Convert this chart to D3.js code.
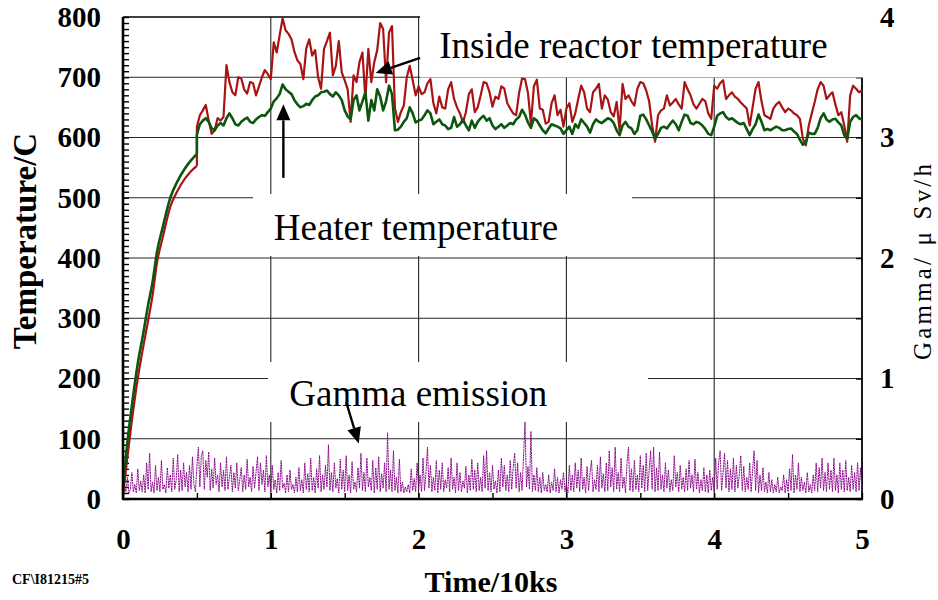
<!DOCTYPE html>
<html>
<head>
<meta charset="utf-8">
<script src="https://cdn.jsdelivr.net/npm/d3@7"></script>
<style>
  body { margin: 0; background: #fff; }
  svg { display: block; }
</style>
</head>
<body>
<div id="chart"></div>
<script>
// tick labels
const tempTicks = [0, 100, 200, 300, 400, 500, 600, 700, 800];
const timeTicks = [0, 1, 2, 3, 4, 5];
const gammaTicks = [0, 1, 2, 3, 4];

// warm-up ramp (time in 10ks, temperature in C)
const rampTime = [0, 0.03, 0.06, 0.1, 0.135, 0.17, 0.2, 0.23, 0.27, 0.32, 0.37, 0.42, 0.46, 0.5];
const rampHeater = [15, 95, 155, 225, 272, 322, 360, 410, 452, 500, 528, 549, 562, 573];
const rampReactor = [5, 70, 130, 200, 250, 296, 338, 392, 435, 485, 512, 532, 544, 553];

// holding period, sampled every 0.02 (x 10ks) from 0.5 to 5.0
const holdStart = 0.5, holdStep = 0.02;
const heaterTemp = [
  605,622,628,632,626,615,612,620,624,620,
  632,640,632,622,620,626,630,633,626,624,
  630,634,637,636,642,648,660,665,672,688,
  680,676,672,662,655,650,652,656,654,662,
  668,670,675,676,678,672,668,675,670,662,
  645,635,630,662,670,645,660,675,628,662,
  645,680,668,645,660,686,672,612,613,618,
  626,632,650,640,625,628,630,637,645,640,
  622,626,630,622,620,614,616,634,618,622,
  630,620,612,628,616,626,632,636,628,632,
  620,614,618,622,616,620,624,622,630,634,
  646,638,625,616,632,628,620,612,607,615,
  622,620,618,615,606,612,618,606,622,616,
  630,624,618,608,622,630,626,624,628,632,
  630,624,612,604,620,626,618,615,606,612,
  636,638,630,620,610,598,606,616,618,615,
  622,628,622,612,626,638,636,624,622,626,
  624,620,614,606,604,618,636,640,642,634,
  630,632,628,624,622,624,614,604,614,622,
  638,626,612,614,612,615,618,616,612,612,
  614,615,610,606,596,588,592,608,606,606,
  616,632,640,630,626,630,631,625,620,604,
  598,626,634,637,632,630
];
const reactorTemp = [
  618,637,645,654,628,606,612,632,628,634,
  720,692,675,670,700,698,680,673,692,690,
  670,685,700,712,705,697,758,741,770,798,
  778,772,763,742,728,722,697,748,763,736,
  745,700,681,747,760,774,703,719,760,708,
  695,680,626,703,692,725,741,664,747,692,
  725,745,790,780,692,774,785,648,626,642,
  653,700,719,695,670,685,672,675,690,697,
  657,640,668,650,648,680,692,664,650,640,
  625,642,672,680,642,650,670,692,690,675,
  651,668,664,685,681,657,648,640,637,674,
  698,697,674,623,685,696,648,646,623,626,
  657,670,637,646,618,648,657,626,640,664,
  686,675,648,642,675,681,689,648,670,663,
  642,635,659,612,689,664,670,660,653,681,
  692,690,678,660,620,593,637,645,648,670,
  653,658,664,655,648,692,680,670,655,648,
  656,664,660,640,631,686,681,690,695,664,
  670,675,668,664,658,653,648,620,650,681,
  692,660,637,634,631,648,655,659,650,642,
  648,645,640,637,631,598,587,620,640,659,
  680,692,686,664,670,675,655,637,642,620,
  593,670,686,681,675,678
];

// gamma dose rate (uSv/h), sampled every 0.01 (x 10ks) from 0 to 5.0
const gammaStep = 0.01;
const gammaRate = [
  0.02,0.10,0.06,0.18,0.05,0.08,0.22,0.06,0.12,0.05,0.25,0.07,0.15,0.06,0.20,0.05,0.30,0.08,0.38,0.06,
  0.14,0.05,0.28,0.07,0.18,0.06,0.32,0.08,0.12,0.05,0.26,0.09,0.20,0.06,0.34,0.08,0.16,0.37,0.06,0.24,
  0.07,0.30,0.10,0.22,0.06,0.28,0.08,0.35,0.12,0.06,0.27,0.43,0.10,0.36,0.40,0.08,0.32,0.18,0.39,0.07,
  0.25,0.09,0.34,0.12,0.20,0.06,0.30,0.10,0.24,0.07,0.35,0.08,0.18,0.28,0.06,0.22,0.09,0.30,0.07,0.16,
  0.26,0.06,0.20,0.08,0.33,0.10,0.18,0.06,0.27,0.09,0.22,0.35,0.07,0.30,0.12,0.24,0.06,0.36,0.10,0.20,
  0.06,0.28,0.08,0.16,0.05,0.22,0.07,0.32,0.09,0.13,0.05,0.20,0.06,0.24,0.08,0.12,0.05,0.18,0.06,0.26,
  0.07,0.16,0.05,0.30,0.08,0.21,0.06,0.34,0.07,0.18,0.05,0.25,0.09,0.36,0.06,0.20,0.08,0.28,0.10,0.45,
  0.07,0.22,0.06,0.30,0.09,0.17,0.05,0.33,0.08,0.24,0.06,0.36,0.07,0.20,0.05,0.31,0.08,0.14,0.06,0.26,
  0.09,0.38,0.07,0.22,0.06,0.34,0.10,0.18,0.07,0.32,0.05,0.26,0.08,0.35,0.06,0.21,0.09,0.30,0.06,0.55,
  0.08,0.24,0.06,0.40,0.07,0.18,0.05,0.33,0.06,0.14,0.05,0.10,0.06,0.12,0.05,0.25,0.07,0.17,0.06,0.30,
  0.08,0.20,0.06,0.34,0.07,0.22,0.43,0.09,0.28,0.06,0.18,0.07,0.32,0.05,0.24,0.08,0.30,0.06,0.16,0.09,
  0.26,0.06,0.34,0.08,0.18,0.05,0.30,0.07,0.22,0.06,0.15,0.09,0.27,0.05,0.20,0.07,0.33,0.08,0.24,0.06,
  0.30,0.07,0.18,0.06,0.36,0.09,0.40,0.07,0.22,0.06,0.28,0.08,0.15,0.05,0.24,0.06,0.34,0.10,0.28,0.07,
  0.20,0.06,0.32,0.08,0.26,0.38,0.09,0.30,0.06,0.22,0.07,0.35,0.64,0.10,0.27,0.08,0.56,0.06,0.20,0.07,
  0.26,0.06,0.18,0.05,0.22,0.07,0.12,0.06,0.20,0.05,0.14,0.07,0.25,0.06,0.18,0.05,0.16,0.08,0.22,0.06,
  0.12,0.05,0.28,0.07,0.20,0.06,0.30,0.09,0.24,0.06,0.34,0.08,0.18,0.05,0.27,0.07,0.22,0.32,0.06,0.16,
  0.08,0.28,0.06,0.35,0.09,0.21,0.06,0.30,0.07,0.40,0.10,0.26,0.06,0.43,0.08,0.22,0.06,0.34,0.09,0.18,
  0.05,0.30,0.43,0.07,0.25,0.06,0.32,0.08,0.20,0.06,0.36,0.09,0.28,0.06,0.38,0.07,0.24,0.40,0.08,0.43,
  0.06,0.26,0.07,0.39,0.08,0.20,0.06,0.30,0.09,0.24,0.06,0.16,0.07,0.36,0.10,0.22,0.06,0.28,0.08,0.18,
  0.06,0.25,0.07,0.32,0.09,0.20,0.06,0.33,0.08,0.22,0.05,0.16,0.07,0.26,0.06,0.20,0.05,0.24,0.07,0.18,
  0.06,0.34,0.08,0.30,0.40,0.07,0.22,0.38,0.09,0.32,0.06,0.25,0.08,0.34,0.06,0.28,0.09,0.20,0.36,0.07,
  0.27,0.06,0.18,0.08,0.30,0.06,0.24,0.40,0.07,0.32,0.05,0.20,0.07,0.26,0.06,0.14,0.05,0.22,0.06,0.16,
  0.05,0.12,0.06,0.18,0.05,0.10,0.07,0.20,0.05,0.16,0.06,0.25,0.07,0.37,0.05,0.20,0.08,0.30,0.06,0.18,
  0.07,0.14,0.05,0.22,0.06,0.12,0.05,0.20,0.07,0.30,0.06,0.26,0.09,0.34,0.07,0.22,0.06,0.30,0.08,0.24,
  0.06,0.34,0.07,0.20,0.05,0.30,0.08,0.24,0.06,0.32,0.07,0.18,0.06,0.28,0.08,0.22,0.06,0.30,0.07,0.26,
  0.06
];

// annotation text and arrows (data coordinates)
const notes = [
  { text: "Inside reactor temperature", t: 2.14, v: 732, from: [2.01, 732], to: [1.71, 707] },
  { text: "Heater temperature", t: 1.02, v: 430, from: [1.085, 533], to: [1.085, 655] },
  { text: "Gamma emission", t: 1.125, v: 155, from: [1.51, 161], to: [1.595, 92] }
];

const width = 938, height = 600;
const serif = "'Liberation Serif', 'Times New Roman', Times, serif";

const svg = d3.select("#chart")
  .append("svg")
  .attr("width", width)
  .attr("height", height)
  .style("font-family", serif);

const x = d3.scaleLinear().domain([0, 5]).range([123, 862]);
const y = d3.scaleLinear().domain([0, 800]).range([499, 17]);
const yGamma = d3.scaleLinear().domain([0, 4]).range([499, 17]);

// grid lines
svg.append("g")
  .selectAll("line")
  .data(tempTicks.slice(1, -1))
  .join("line")
  .attr("x1", x(0)).attr("x2", x(5))
  .attr("y1", d => y(d)).attr("y2", d => y(d))
  .attr("stroke", "#262626").attr("stroke-width", 1.1);

svg.append("g")
  .selectAll("line")
  .data(timeTicks.slice(1, -1))
  .join("line")
  .attr("x1", d => x(d)).attr("x2", d => x(d))
  .attr("y1", y(0)).attr("y2", y(800))
  .attr("stroke", "#262626").attr("stroke-width", 1.1);

// frame top and right
svg.append("line")
  .attr("x1", x(0)).attr("x2", x(5)).attr("y1", y(800)).attr("y2", y(800))
  .attr("stroke", "#000").attr("stroke-width", 1.5);
svg.append("line")
  .attr("x1", x(5)).attr("x2", x(5)).attr("y1", y(0)).attr("y2", y(800))
  .attr("stroke", "#000").attr("stroke-width", 1.8);

// minor ticks, pointing inward
svg.append("g")
  .attr("transform", `translate(${x(0)},0)`)
  .call(d3.axisRight(y).ticks(80).tickSize(6).tickFormat(""))
  .call(g => g.select(".domain").remove())
  .selectAll("line").attr("stroke", "#000").attr("stroke-width", 1.4);

svg.append("g")
  .attr("transform", `translate(${x(5)},0)`)
  .call(d3.axisLeft(yGamma).ticks(8).tickSize(6).tickFormat(""))
  .call(g => g.select(".domain").remove())
  .selectAll("line").attr("stroke", "#000").attr("stroke-width", 1.4);

svg.append("g")
  .attr("transform", `translate(0,${y(0)})`)
  .call(d3.axisTop(x).ticks(10).tickSize(6).tickFormat(""))
  .call(g => g.select(".domain").remove())
  .selectAll("line").attr("stroke", "#000").attr("stroke-width", 1.4);

// white boxes behind the annotation labels
const boxes = [
  [420, 0, 450, 77.5],
  [253, 194, 379, 62],
  [268, 362, 380, 60]
];
svg.append("g")
  .selectAll("rect")
  .data(boxes)
  .join("rect")
  .attr("x", d => d[0]).attr("y", d => d[1])
  .attr("width", d => d[2]).attr("height", d => d[3])
  .attr("fill", "#fff");

// gamma trace
const gammaLine = d3.line()
  .x((d, i) => x(i * gammaStep))
  .y(d => yGamma(d));
svg.append("path")
  .datum(gammaRate)
  .attr("d", gammaLine)
  .attr("fill", "none")
  .attr("stroke", "#8b0a8b")
  .attr("stroke-width", 1)
  .attr("stroke-dasharray", "2 0.6");

// temperature traces
const rampLine = d3.line()
  .curve(d3.curveMonotoneX)
  .x((d, i) => x(rampTime[i]))
  .y(d => y(d));
const holdLine = d3.line()
  .x(d => x(d[0]))
  .y(d => y(d[1]));

function holdPoints(values, rampEnd) {
  const pts = [[0.5, rampEnd]];
  values.forEach((v, i) => pts.push([holdStart + i * holdStep, v]));
  return pts;
}

const series = [
  { ramp: rampReactor, hold: reactorTemp, color: "#a81414", w: 2.2 },
  { ramp: rampHeater, hold: heaterTemp, color: "#0d560d", w: 2.6 }
];
series.forEach(s => {
  svg.append("path")
    .datum(s.ramp)
    .attr("d", rampLine)
    .attr("fill", "none")
    .attr("stroke", s.color)
    .attr("stroke-width", s.w);
  svg.append("path")
    .datum(holdPoints(s.hold, s.ramp[s.ramp.length - 1]))
    .attr("d", holdLine)
    .attr("fill", "none")
    .attr("stroke", s.color)
    .attr("stroke-width", s.w)
    .attr("stroke-linejoin", "round");
});

// left and bottom axis lines
svg.append("line")
  .attr("x1", x(0)).attr("x2", x(0)).attr("y1", y(0) + 1).attr("y2", y(800))
  .attr("stroke", "#000").attr("stroke-width", 2.6);
svg.append("line")
  .attr("x1", x(0)).attr("x2", x(5) + 1).attr("y1", y(0)).attr("y2", y(0))
  .attr("stroke", "#000").attr("stroke-width", 2.6);

// tick labels
function styleLabels(g) {
  g.select(".domain").remove();
  g.attr("font-family", serif).attr("font-size", 29).attr("font-weight", "bold");
  g.selectAll("text").attr("fill", "#000");
}
svg.append("g")
  .attr("transform", `translate(${x(0)},0)`)
  .call(d3.axisLeft(y).tickValues(tempTicks).tickFormat(d3.format("d")).tickSize(0).tickPadding(22))
  .call(styleLabels);
svg.append("g")
  .attr("transform", `translate(0,${y(0)})`)
  .call(d3.axisBottom(x).tickValues(timeTicks).tickFormat(d3.format("d")).tickSize(0).tickPadding(29))
  .call(styleLabels);
svg.append("g")
  .attr("transform", `translate(${x(5)},0)`)
  .call(d3.axisRight(yGamma).tickValues(gammaTicks).tickFormat(d3.format("d")).tickSize(0).tickPadding(18))
  .call(styleLabels);

// axis titles
svg.append("text")
  .attr("transform", "translate(36,241) rotate(-90)")
  .attr("text-anchor", "middle")
  .attr("font-size", 33)
  .attr("font-weight", "bold")
  .text("Temperature/C");

svg.append("text")
  .attr("transform", "translate(931,262) rotate(-90)")
  .attr("text-anchor", "middle")
  .attr("font-size", 25)
  .attr("textLength", 196)
  .attr("lengthAdjust", "spacing")
  .text("Gamma/ \u03bc Sv/h");

svg.append("text")
  .attr("x", 491).attr("y", 592)
  .attr("text-anchor", "middle")
  .attr("font-size", 30)
  .attr("font-weight", "bold")
  .text("Time/10ks");

svg.append("text")
  .attr("x", 12).attr("y", 584)
  .attr("font-size", 14)
  .attr("font-weight", "bold")
  .text("CF\\I81215#5");

// annotations
svg.append("g")
  .selectAll("text")
  .data(notes)
  .join("text")
  .attr("x", d => x(d.t))
  .attr("y", d => y(d.v))
  .attr("font-size", 37)
  .text(d => d.text);

function arrow(from, to) {
  const x1 = x(from[0]), y1 = y(from[1]), x2 = x(to[0]), y2 = y(to[1]);
  const len = Math.hypot(x2 - x1, y2 - y1);
  const ux = (x2 - x1) / len, uy = (y2 - y1) / len;
  const head = 16, half = 7;
  const bx = x2 - ux * head, by = y2 - uy * head;
  svg.append("line")
    .attr("x1", x1).attr("y1", y1).attr("x2", bx).attr("y2", by)
    .attr("stroke", "#000").attr("stroke-width", 2.4);
  svg.append("path")
    .attr("d", `M${x2},${y2}L${bx - uy * half},${by + ux * half}L${bx + uy * half},${by - ux * half}Z`)
    .attr("fill", "#000");
}
notes.forEach(d => arrow(d.from, d.to));
</script>
</body>
</html>
